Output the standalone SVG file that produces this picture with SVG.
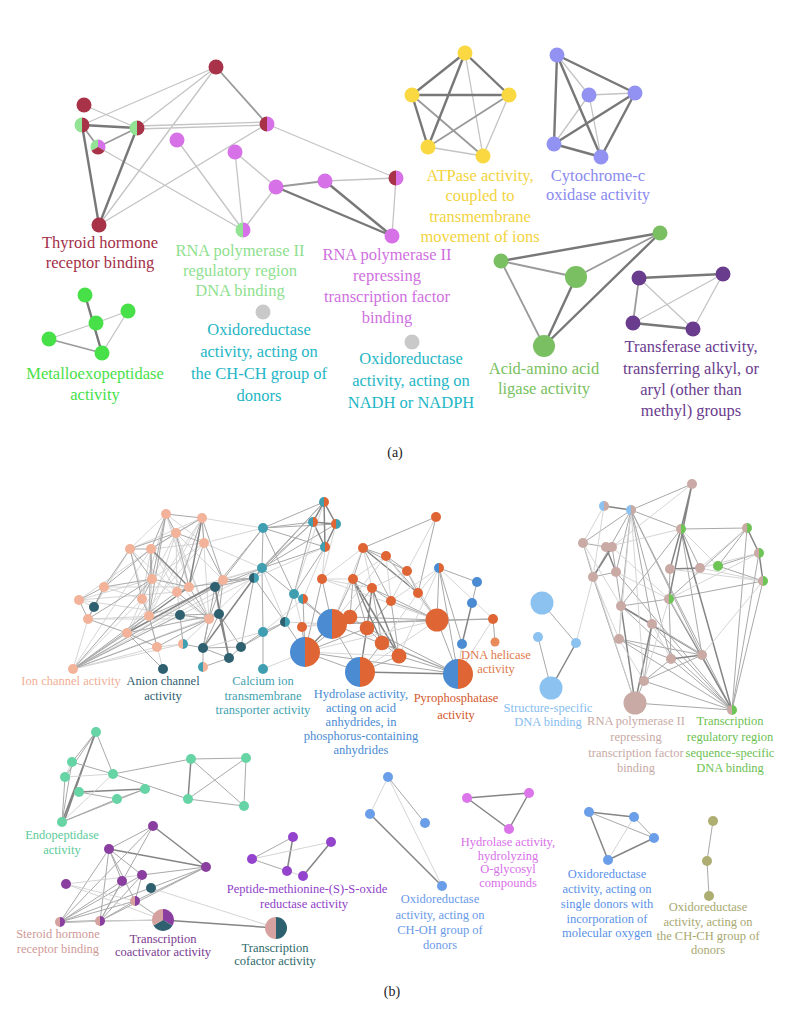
<svg xmlns="http://www.w3.org/2000/svg" xmlns:xlink="http://www.w3.org/1999/xlink" width="790" height="1024" viewBox="0 0 790 1024">
<style>
text{font-family:"Liberation Serif","Times New Roman",serif;text-anchor:middle}
.ta{font-size:16.5px}
.tb{font-size:12.5px}
.ea1{stroke:#c4c4c4;stroke-width:1.3;fill:none}
.ea2{stroke:#9a9a9a;stroke-width:1.8;fill:none}
.ea3{stroke:#787878;stroke-width:2.4;fill:none}
.eb1{stroke:#d0d0d0;stroke-width:.9;fill:none}
.eb2{stroke:#a9a9a9;stroke-width:1;fill:none}
.eb3{stroke:#858585;stroke-width:1.5;fill:none}
.fRed{fill:#a83248}.fLg{fill:#92e494}.fMag{fill:#d771e8}.fGr{fill:#48e048}.fGy{fill:#c9c9c9}
.fYel{fill:#f9d841}.fPer{fill:#9292f2}.fAc{fill:#7ac062}.fPu{fill:#6a3c8e}
.fSal{fill:#f2b39a}.fDt{fill:#2f6070}.fTe{fill:#3f9fb0}.fOr{fill:#df6535}.fBl{fill:#4a8bd2}
.fLb{fill:#8cc2f0}.fRo{fill:#c9aaa5}.fGn{fill:#6ec455}.fMi{fill:#66d4a4}.fCp{fill:#8a3fa0}
.fRs{fill:#d6a2a0}.fPp{fill:#9444cc}.fB2{fill:#6a9ee8}.fM2{fill:#dc74ea}.fOl{fill:#aeae72}.fLo{fill:#e88a5a}
</style>
<defs>
<path id="L" d="M0,-1A1,1 0 0 0 0,1Z"/>
<path id="R" d="M0,-1A1,1 0 0 1 0,1Z"/>
<path id="S1" d="M0,0L0,-1A1,1 0 0 1 .866,.5Z"/>
<path id="S2" d="M0,0L.866,.5A1,1 0 0 1 -.866,.5Z"/>
<path id="S3" d="M0,0L-.866,.5A1,1 0 0 1 0,-1Z"/>
</defs>
<rect width="790" height="1024" fill="#fff"/>

<g id="connectors">
<path class="ea1" d="M216 67L82 125M216 67L137 128M216 67L99 225M84 105L137 128M137 126L267 122M137 129L267 125M98 147L243 230M99 225L267 124M267 124L396 178M177 140L243 230M235 152L243 230M235 152L276 187M276 187L243 230M325 181L396 178M396 178L392 236M96 323L128 311M128 311L102 353M49 339L96 323M465 53L483 156M428 147L483 156M509 95L483 156M557 55L589 95M589 95L635 93M589 95L554 144M589 95L601 157M639 278L693 329M723 274L633 323M723 274L693 329"/>
<path class="ea2" d="M216 67L267 124M82 125L98 147M137 128L98 147M276 187L325 181M49 339L102 353M412 95L483 156M509 95L428 147M660 233L576 277M501 261L576 277M501 261L544 346M639 278L633 323"/>
<path class="ea3" d="M82 125L137 128M82 125L99 225M137 128L99 225M276 187L392 236M325 181L392 236M85 295L102 353M465 53L412 95M465 53L509 95M412 95L509 95M465 53L428 147M412 95L428 147M557 55L635 93M557 55L554 144M557 55L601 157M635 93L554 144M635 93L601 157M554 144L601 157M660 233L501 261M660 233L544 346M576 277L544 346M639 278L723 274M633 323L693 329"/>

<path class="eb1" d="M166 514L130 549M166 514L189 587M166 514L209 619M202 518L151 549M202 518L149 616M202 518L127 633M176 533L152 579M176 533L177 592M176 533L223 580M204 543L151 549M204 543L127 633M130 549L149 616M151 549L142 599M151 549L209 619M152 579L149 616M152 579L209 619M79 600L94 607M142 599L127 633M177 592L180 615M88 619L73 669M157 647L183 644M209 619L183 644M73 669L183 644M73 669L142 599M73 669L157 647M73 669L151 549M73 669L219 614M73 669L223 580M79 600L209 619M104 587L189 587M130 549L177 592M88 619L209 619M79 600L177 592M204 543L152 579M202 518L130 549M104 587L142 599M166 514L204 543M163 669L149 616M94 607L130 549"/>
<path class="eb1" d="M202 518L263 528M204 543L262 568M209 619L262 568M177 592L262 568M73 669L262 568M73 669L254 578M88 619L180 615M151 549L177 592M79 600L151 549M79 600L152 579M166 514L142 599M202 518L209 619M176 533L209 619M176 533L149 616"/>
<path class="eb2" d="M166 514L202 518M166 514L176 533M166 514L151 549M166 514L152 579M166 514L149 616M202 518L176 533M202 518L204 543M202 518L177 592M202 518L223 580M176 533L204 543M176 533L151 549M176 533L189 587M204 543L223 580M204 543L189 587M130 549L151 549M130 549L104 587M130 549L152 579M130 549L142 599M151 549L152 579M151 549L149 616M104 587L79 600M104 587L88 619M104 587L152 579M152 579L142 599M152 579L189 587M223 580L209 619M223 580L215 587M177 592L189 587M177 592L209 619M189 587L209 619M88 619L127 633M149 616L127 633M209 619L157 647M127 633L157 647M127 633L73 669M73 669L149 616M73 669L209 619M73 669L152 579M73 669L180 615M73 669L177 592M127 633L163 669M149 616L157 647M142 599L149 616M79 600L88 619M189 587L254 578M73 669L215 587M127 633L219 614M149 616L215 587M130 549L176 533M104 587L151 549M88 619L152 579"/>
<path class="eb3" d="M127 633L223 580M202 518L189 587M149 616L189 587M151 549L189 587"/>
<path class="eb2" d="M215 587L219 614M215 587L203 648M215 587L254 578M180 615L219 614M219 614L203 648M219 614L241 647M203 648L229 658M203 648L241 647M229 658L241 647M203 648L203 667M229 658L203 667M254 578L241 647M254 578L262 568M254 578L223 580M241 647L263 632M219 614L209 619M180 615L209 619M180 615L183 644M94 607L88 619M94 607L104 587M183 644L203 648M223 580L219 614M209 619L203 648"/>
<path class="eb3" d="M215 587L229 658M219 614L229 658M254 578L203 648"/>
<path class="eb2" d="M263 528L324 502M263 528L313 522M263 528L336 524M263 528L325 547M263 528L262 568M263 528L294 594M262 568L263 632M262 568L294 594M262 568L325 547M263 632L263 669M263 632L285 622M285 622L294 594M294 594L325 547M294 594L313 522M285 622L241 647M262 568L324 502M262 568L313 522M262 568L336 524M254 578L313 522M254 578L324 502M254 578L285 622M294 594L332 624M285 622L305 652M303 599L332 624M303 599L305 652M262 568L215 587M223 580L263 528M215 587L263 528"/>
<path class="eb3" d="M324 502L313 522M324 502L336 524M324 502L325 547M313 522L336 524M313 522L325 547M336 524L325 547"/>
<path class="eb1" d="M262 568L223 580M254 578L325 547M263 632L303 599M263 669L305 652M285 622L332 624M263 632L203 648M262 568L285 622M325 547L322 579M336 524L322 579M294 594L302 627M325 547L303 599M324 502L294 594M204 543L263 528"/>
<path class="eb2" d="M436 517L363 548M436 517L418 593M363 548L386 556M363 548L407 571M363 548L353 579M363 548L391 601M386 556L407 571M386 556L418 593M407 571L418 593M353 579L372 588M353 579L332 624M353 579L350 617M353 579L367 628M372 588L391 601M372 588L350 617M372 588L382 643M391 601L437 620M391 601L367 628M391 601L399 656M418 593L437 620M350 617L367 628M367 628L382 643M382 643L399 656M350 617L332 624M332 624L360 672M332 624L458 674M305 652L360 672M305 652L458 674M399 656L458 674M382 643L458 674M367 628L458 674M437 620L458 674M437 620L493 619M493 619L495 642M332 624L437 620M302 627L305 652M439 568L477 582M439 568L462 644M439 568L437 620M477 582L472 603M322 579L332 624M322 579L305 652M350 617L305 652M367 628L305 652M382 643L360 672M360 672L399 656M439 568L458 674M353 579L437 620M332 624L493 619M437 620L350 617"/>
<path class="eb3" d="M360 672L458 674M472 603L462 644M363 548L418 593M353 579L382 643M372 588L399 656M353 579L399 656M367 628L360 672M332 624L305 652M372 588L367 628"/>
<path class="eb1" d="M363 548L322 579M363 548L372 588M386 556L353 579M386 556L391 601M407 571L391 601M322 579L353 579M322 579L372 588M386 556L437 620M407 571L437 620M436 517L407 571M418 593L439 568M391 601L439 568M439 568L399 656M462 644L458 674M322 579L437 620M363 548L332 624M302 627L332 624M302 627L350 617M305 652L437 620M418 593L382 643M407 571L372 588M458 674L493 619M493 619L439 568M386 556L332 624M305 652L399 656M360 672L437 620"/>
<path class="eb2" d="M542 603L576 643M538 637L551 688"/>
<path class="eb3" d="M576 643L551 688M604 506L631 510"/>
<path class="eb1" d="M576 643L593 577"/>
<path class="eb2" d="M692 484L631 510M631 510L583 543M631 510L593 577M631 510L616 572M631 510L681 529M631 510L621 606M631 510L671 659M631 510L702 655M631 510L732 710M631 510L652 624M583 543L606 547M583 543L593 577M612 547L616 572M593 577L616 572M681 529L747 528M681 529L700 568M747 528L732 710M747 528L718 566M747 528L669 599M759 553L732 710M763 581L732 710M763 581L669 599M718 566L759 553M718 566L763 581M670 569L669 599M669 599L671 659M669 599L621 606M621 606L652 624M652 624L644 681M619 639L671 659M619 639L702 655M671 659L644 681M702 655L644 681M644 681L635 703M621 606L732 710M619 639L732 710M671 659L732 710M702 655L732 710M644 681L732 710M652 624L732 710M616 572L732 710M593 577L635 703M616 572L621 606M681 529L621 606M681 529L702 655M635 703L732 710"/>
<path class="eb3" d="M606 547L616 572M612 547L593 577M681 529L670 569M681 529L732 710M747 528L759 553M759 553L763 581M670 569L700 568M669 599L732 710M621 606L702 655M652 624L635 703M671 659L702 655M621 606L635 703M692 484L681 529M692 484L669 599"/>
<path class="eb1" d="M604 506L593 577M604 506L583 543M692 484L612 547M606 547L681 529M612 547L669 599M616 572L669 599M700 568L747 528M700 568L763 581M670 569L763 581M583 543L635 703M593 577L619 639M621 606L619 639M619 639L644 681M652 624L671 659M652 624L702 655M669 599L702 655M669 599L644 681M763 581L702 655M583 543L621 606M631 510L619 639M631 510L644 681M681 529L718 566M700 568L759 553M759 553L669 599"/>
<path class="eb3" d="M96 732L62 822M95 733L64 822M79 792L145 789M191 759L188 799"/>
<path class="eb2" d="M96 732L65 777M96 732L113 774M72 762L113 774M72 762L62 822M65 777L62 822M79 792L117 799M117 799L145 789M62 822L145 789M62 822L117 799M113 774L191 759M191 759L246 758M191 759L244 806M246 758L188 799M246 758L244 806M188 799L244 806M113 774L188 799M96 732L72 762"/>
<path class="eb1" d="M65 777L113 774M72 762L65 777M62 822L113 774"/>
<path class="eb3" d="M153 826L206 867M109 849L206 867M60 922L100 921M163 920L276 928"/>
<path class="eb2" d="M153 826L109 849M153 826L60 922M153 826L100 921M109 849L60 922M109 849L100 921M109 849L122 881M109 849L135 901M109 849L142 875M206 867L60 922M206 867L100 921M206 867L135 901M206 867L142 875M122 881L60 922M122 881L100 921M142 875L60 922M142 875L100 921M142 875L135 901M135 901L60 922M135 901L100 921M135 901L163 920M100 921L163 920"/>
<path class="eb1" d="M66 884L142 875M66 884L135 901M151 888L276 928M66 884L163 920M60 922L163 920"/>
<path class="eb3" d="M293 837L287 871M303 876L331 842M370 814L442 886M467 798L529 793M467 798L509 829M529 793L509 829M589 812L634 817M589 812L608 860M654 838L608 860"/>
<path class="eb2" d="M252 859L287 871M293 837L252 859M388 777L425 823M589 812L654 838M634 817L654 838M713 821L707 861M707 861L709 896"/>
<path class="eb1" d="M252 859L331 842M287 871L303 876M388 777L370 814M388 777L442 886M634 817L608 860"/>
</g>

<g id="thyroid-hormone-receptor-binding">
<circle cx="216" cy="67" r="7.5" class="fRed"/>
<circle cx="84" cy="105" r="7.5" class="fRed"/>
<g transform="translate(82 125) scale(7.5)"><use href="#L" class="fLg"/><use href="#R" class="fRed"/></g>
<g transform="translate(137 128) scale(7.5)"><use href="#L" class="fLg"/><use href="#R" class="fRed"/></g>
<g transform="translate(98 147) scale(7.5)"><use href="#S3" class="fLg"/><use href="#S1" class="fMag"/><use href="#S2" class="fRed"/></g>
<circle cx="99" cy="225" r="7.5" class="fRed"/>
<g transform="translate(267 124) scale(7.5)"><use href="#L" class="fRed"/><use href="#R" class="fMag"/></g>
<text class="ta" x="100" y="248" fill="#a33048">Thyroid hormone</text>
<text class="ta" x="100" y="268" fill="#a33048">receptor binding</text>
</g>
<g id="rna-pol2-repressing-a">
<circle cx="177" cy="140" r="7.5" class="fMag"/>
<circle cx="235" cy="152" r="7.5" class="fMag"/>
<circle cx="276" cy="187" r="7.5" class="fMag"/>
<circle cx="325" cy="181" r="7.5" class="fMag"/>
<g transform="translate(396 178) scale(7.5)"><use href="#L" class="fRed"/><use href="#R" class="fMag"/></g>
<circle cx="392" cy="236" r="7.5" class="fMag"/>
<text class="ta" x="387" y="260" fill="#d070e0">RNA polymerase II</text>
<text class="ta" x="387" y="281" fill="#d070e0">repressing</text>
<text class="ta" x="387" y="302" fill="#d070e0">transcription factor</text>
<text class="ta" x="387" y="323" fill="#d070e0">binding</text>
</g>
<g id="rna-pol2-regulatory-a">
<g transform="translate(243 230) scale(7.5)"><use href="#L" class="fLg"/><use href="#R" class="fMag"/></g>
<text class="ta" x="240" y="256" fill="#8fdf8f">RNA polymerase II</text>
<text class="ta" x="240" y="276" fill="#8fdf8f">regulatory region</text>
<text class="ta" x="240" y="296" fill="#8fdf8f">DNA binding</text>
</g>
<g id="oxidoreductase-chch-a">
<circle cx="263" cy="312" r="7.5" class="fGy"/>
<text class="ta" x="259" y="335" fill="#1eb6c6">Oxidoreductase</text>
<text class="ta" x="259" y="357" fill="#1eb6c6">activity, acting on</text>
<text class="ta" x="259" y="379" fill="#1eb6c6">the CH-CH group of</text>
<text class="ta" x="259" y="401" fill="#1eb6c6">donors</text>
</g>
<g id="oxidoreductase-nadh">
<circle cx="412" cy="342" r="7.5" class="fGy"/>
<text class="ta" x="411" y="364" fill="#1eb6c6">Oxidoreductase</text>
<text class="ta" x="411" y="386" fill="#1eb6c6">activity, acting on</text>
<text class="ta" x="411" y="408" fill="#1eb6c6">NADH or NADPH</text>
</g>
<g id="metalloexopeptidase">
<circle cx="85" cy="295" r="7.5" class="fGr"/>
<circle cx="128" cy="311" r="7.5" class="fGr"/>
<circle cx="96" cy="323" r="7.5" class="fGr"/>
<circle cx="49" cy="339" r="7.5" class="fGr"/>
<circle cx="102" cy="353" r="7.5" class="fGr"/>
<text class="ta" x="95" y="379" fill="#48e048">Metalloexopeptidase</text>
<text class="ta" x="95" y="400" fill="#48e048">activity</text>
</g>
<g id="atpase">
<circle cx="465" cy="53" r="7.5" class="fYel"/>
<circle cx="412" cy="95" r="7.5" class="fYel"/>
<circle cx="509" cy="95" r="7.5" class="fYel"/>
<circle cx="428" cy="147" r="7.5" class="fYel"/>
<circle cx="483" cy="156" r="7.5" class="fYel"/>
<text class="ta" x="480" y="181" fill="#f3d340">ATPase activity,</text>
<text class="ta" x="480" y="201" fill="#f3d340">coupled to</text>
<text class="ta" x="480" y="222" fill="#f3d340">transmembrane</text>
<text class="ta" x="480" y="242" fill="#f3d340">movement of ions</text>
</g>
<g id="cytochrome-c">
<circle cx="557" cy="55" r="7.5" class="fPer"/>
<circle cx="589" cy="95" r="7.5" class="fPer"/>
<circle cx="635" cy="93" r="7.5" class="fPer"/>
<circle cx="554" cy="144" r="7.5" class="fPer"/>
<circle cx="601" cy="157" r="7.5" class="fPer"/>
<text class="ta" x="598" y="181" fill="#8a8aee">Cytochrome-c</text>
<text class="ta" x="598" y="200" fill="#8a8aee">oxidase activity</text>
</g>
<g id="acid-amino-acid-ligase">
<circle cx="660" cy="233" r="7.5" class="fAc"/>
<circle cx="501" cy="261" r="7.5" class="fAc"/>
<circle cx="576" cy="277" r="11" class="fAc"/>
<circle cx="544" cy="346" r="11" class="fAc"/>
<text class="ta" x="544" y="374" fill="#78bf60">Acid-amino acid</text>
<text class="ta" x="544" y="394" fill="#78bf60">ligase activity</text>
</g>
<g id="transferase">
<circle cx="639" cy="278" r="7.5" class="fPu"/>
<circle cx="723" cy="274" r="7.5" class="fPu"/>
<circle cx="633" cy="323" r="7.5" class="fPu"/>
<circle cx="693" cy="329" r="7.5" class="fPu"/>
<text class="ta" x="691" y="352" fill="#6a3c8e">Transferase activity,</text>
<text class="ta" x="691" y="374" fill="#6a3c8e">transferring alkyl, or</text>
<text class="ta" x="691" y="395" fill="#6a3c8e">aryl (other than</text>
<text class="ta" x="691" y="416" fill="#6a3c8e">methyl) groups</text>
</g>
<text x="395" y="457" style="font-size:14px" fill="#222">(a)</text>

<g id="ion-channel">
<circle cx="166" cy="514" r="5" class="fSal"/><circle cx="202" cy="518" r="5" class="fSal"/><circle cx="176" cy="533" r="5" class="fSal"/><circle cx="204" cy="543" r="5" class="fSal"/><circle cx="130" cy="549" r="5" class="fSal"/><circle cx="151" cy="549" r="5" class="fSal"/><circle cx="104" cy="587" r="5" class="fSal"/><circle cx="152" cy="579" r="5" class="fSal"/><circle cx="223" cy="580" r="5" class="fSal"/><circle cx="79" cy="600" r="5" class="fSal"/><circle cx="142" cy="599" r="5" class="fSal"/><circle cx="177" cy="592" r="5" class="fSal"/><circle cx="189" cy="587" r="5" class="fSal"/><circle cx="88" cy="619" r="5" class="fSal"/><circle cx="149" cy="616" r="5" class="fSal"/><circle cx="209" cy="619" r="5" class="fSal"/><circle cx="127" cy="633" r="5" class="fSal"/><circle cx="157" cy="647" r="5" class="fSal"/><circle cx="73" cy="669" r="5" class="fSal"/>
<g transform="translate(183 644) scale(5)"><use href="#L" class="fSal"/><use href="#R" class="fTe"/></g>
<g transform="translate(203 667) scale(5)"><use href="#L" class="fTe"/><use href="#R" class="fSal"/></g>
<text class="tb" x="71" y="685" fill="#f0ae94">Ion channel activity</text>
</g>
<g id="anion-channel">
<circle cx="94" cy="607" r="5" class="fDt"/><circle cx="215" cy="587" r="5" class="fDt"/><circle cx="180" cy="615" r="5" class="fDt"/><circle cx="219" cy="614" r="5" class="fDt"/><circle cx="203" cy="648" r="5" class="fDt"/><circle cx="229" cy="658" r="5" class="fDt"/><circle cx="241" cy="647" r="5" class="fDt"/><circle cx="163" cy="669" r="5" class="fDt"/>
<g transform="translate(254 578) scale(5)"><use href="#L" class="fDt"/><use href="#R" class="fTe"/></g>
<text class="tb" x="163" y="685" fill="#2f6070">Anion channel</text>
<text class="tb" x="163" y="700" fill="#2f6070">activity</text>
</g>
<g id="calcium-ion">
<circle cx="263" cy="528" r="5" class="fTe"/><circle cx="262" cy="568" r="5" class="fTe"/><circle cx="263" cy="632" r="5" class="fTe"/><circle cx="263" cy="669" r="5" class="fTe"/><circle cx="294" cy="594" r="5" class="fTe"/>
<g transform="translate(285 622) scale(5)"><use href="#L" class="fDt"/><use href="#R" class="fTe"/></g>
<g transform="translate(324 502) scale(5)"><use href="#L" class="fTe"/><use href="#R" class="fOr"/></g>
<g transform="translate(313 522) scale(5)"><use href="#L" class="fTe"/><use href="#R" class="fOr"/></g>
<g transform="translate(336 524) scale(5)"><use href="#L" class="fOr"/><use href="#R" class="fTe"/></g>
<g transform="translate(325 547) scale(5)"><use href="#L" class="fTe"/><use href="#R" class="fOr"/></g>
<g transform="translate(303 599) scale(5)"><use href="#L" class="fTe"/><use href="#R" class="fOr"/></g>
<text class="tb" x="263" y="685" fill="#3f9fb0">Calcium ion</text>
<text class="tb" x="263" y="700" fill="#3f9fb0">transmembrane</text>
<text class="tb" x="263" y="714" fill="#3f9fb0">transporter activity</text>
</g>
<g id="pyrophosphatase">
<circle cx="436" cy="517" r="5" class="fOr"/><circle cx="363" cy="548" r="5" class="fOr"/><circle cx="386" cy="556" r="5" class="fOr"/><circle cx="407" cy="571" r="5" class="fOr"/><circle cx="322" cy="579" r="5" class="fOr"/><circle cx="353" cy="579" r="5" class="fOr"/><circle cx="372" cy="588" r="5" class="fOr"/><circle cx="391" cy="601" r="5" class="fOr"/><circle cx="418" cy="593" r="5" class="fOr"/><circle cx="302" cy="627" r="5" class="fOr"/>
<circle cx="350" cy="617" r="7.3" class="fOr"/><circle cx="367" cy="628" r="7.3" class="fOr"/><circle cx="382" cy="643" r="7.3" class="fOr"/><circle cx="399" cy="656" r="7.5" class="fOr"/><circle cx="437" cy="620" r="11.5" class="fOr"/>
<text class="tb" x="456" y="702" fill="#d4582c">Pyrophosphatase</text>
<text class="tb" x="456" y="719" fill="#d4582c">activity</text>
</g>
<g id="dna-helicase">
<circle cx="493" cy="619" r="5" class="fOr"/><circle cx="495" cy="642" r="4.5" class="fLo"/>
<text class="tb" x="496" y="659" fill="#e07a4c">DNA helicase</text>
<text class="tb" x="496" y="673" fill="#e07a4c">activity</text>
</g>
<g id="hydrolase-acid-anhydrides">
<g transform="translate(332 624) scale(15)"><use href="#L" class="fBl"/><use href="#R" class="fOr"/></g>
<g transform="translate(305 652) scale(15)"><use href="#L" class="fBl"/><use href="#R" class="fOr"/></g>
<g transform="translate(360 672) scale(15)"><use href="#L" class="fBl"/><use href="#R" class="fOr"/></g>
<g transform="translate(458 674) scale(15)"><use href="#L" class="fBl"/><use href="#R" class="fOr"/></g>
<g transform="translate(439 568) scale(5)"><use href="#L" class="fBl"/><use href="#R" class="fOr"/></g>
<circle cx="477" cy="582" r="5" class="fBl"/><circle cx="472" cy="603" r="5" class="fBl"/><circle cx="462" cy="644" r="5" class="fBl"/>
<text class="tb" x="361" y="698" fill="#4a8bd2">Hydrolase activity,</text>
<text class="tb" x="361" y="712" fill="#4a8bd2">acting on acid</text>
<text class="tb" x="361" y="726" fill="#4a8bd2">anhydrides, in</text>
<text class="tb" x="361" y="740" fill="#4a8bd2">phosphorus-containing</text>
<text class="tb" x="361" y="754" fill="#4a8bd2">anhydrides</text>
</g>
<g id="structure-specific-dna-binding">
<g transform="translate(604 506) scale(5)"><use href="#L" class="fLb"/><use href="#R" class="fRo"/></g>
<g transform="translate(631 510) scale(5)"><use href="#L" class="fLb"/><use href="#R" class="fRo"/></g>
<circle cx="542" cy="603" r="11.5" class="fLb"/><circle cx="538" cy="637" r="5" class="fLb"/><circle cx="576" cy="643" r="5" class="fLb"/><circle cx="551" cy="688" r="11.5" class="fLb"/>
<text class="tb" x="548" y="712" fill="#86bdee">Structure-specific</text>
<text class="tb" x="548" y="726" fill="#86bdee">DNA binding</text>
</g>
<g id="rna-pol2-repressing-b">
<circle cx="692" cy="484" r="5" class="fRo"/><circle cx="583" cy="543" r="5" class="fRo"/><circle cx="606" cy="547" r="5" class="fRo"/><circle cx="612" cy="547" r="5" class="fRo"/><circle cx="593" cy="577" r="5" class="fRo"/><circle cx="616" cy="572" r="5" class="fRo"/><circle cx="670" cy="569" r="5" class="fRo"/><circle cx="700" cy="568" r="5" class="fRo"/><circle cx="621" cy="606" r="5" class="fRo"/><circle cx="652" cy="624" r="5" class="fRo"/><circle cx="619" cy="639" r="5" class="fRo"/><circle cx="671" cy="659" r="5" class="fRo"/><circle cx="702" cy="655" r="5" class="fRo"/><circle cx="644" cy="681" r="5" class="fRo"/><circle cx="635" cy="703" r="11.5" class="fRo"/>
<text class="tb" x="636" y="725" fill="#c8aaa6">RNA polymerase II</text>
<text class="tb" x="636" y="741" fill="#c8aaa6">repressing</text>
<text class="tb" x="636" y="757" fill="#c8aaa6">transcription factor</text>
<text class="tb" x="636" y="772" fill="#c8aaa6">binding</text>
</g>
<g id="transcription-regulatory-region">
<g transform="translate(681 529) scale(5)"><use href="#L" class="fRo"/><use href="#R" class="fGn"/></g>
<g transform="translate(747 528) scale(5)"><use href="#L" class="fRo"/><use href="#R" class="fGn"/></g>
<g transform="translate(759 553) scale(5)"><use href="#L" class="fRo"/><use href="#R" class="fGn"/></g>
<g transform="translate(763 581) scale(5)"><use href="#L" class="fRo"/><use href="#R" class="fGn"/></g>
<g transform="translate(669 599) scale(5)"><use href="#L" class="fRo"/><use href="#R" class="fGn"/></g>
<g transform="translate(732 710) scale(5)"><use href="#L" class="fRo"/><use href="#R" class="fGn"/></g>
<circle cx="718" cy="566" r="5" class="fGn"/>
<text class="tb" x="730" y="725" fill="#6cbf52">Transcription</text>
<text class="tb" x="730" y="741" fill="#6cbf52">regulatory region</text>
<text class="tb" x="730" y="757" fill="#6cbf52">sequence-specific</text>
<text class="tb" x="730" y="772" fill="#6cbf52">DNA binding</text>
</g>
<g id="endopeptidase">
<circle cx="96" cy="732" r="5" class="fMi"/><circle cx="72" cy="762" r="5" class="fMi"/><circle cx="65" cy="777" r="5" class="fMi"/><circle cx="113" cy="774" r="5" class="fMi"/><circle cx="79" cy="792" r="5" class="fMi"/><circle cx="117" cy="799" r="5" class="fMi"/><circle cx="145" cy="789" r="5" class="fMi"/><circle cx="62" cy="822" r="5" class="fMi"/><circle cx="191" cy="759" r="5" class="fMi"/><circle cx="246" cy="758" r="5" class="fMi"/><circle cx="188" cy="799" r="5" class="fMi"/><circle cx="244" cy="806" r="5" class="fMi"/>
<text class="tb" x="62" y="839" fill="#5ccb9a">Endopeptidase</text>
<text class="tb" x="62" y="854" fill="#5ccb9a">activity</text>
</g>
<g id="transcription-coactivator">
<circle cx="153" cy="826" r="5" class="fCp"/><circle cx="109" cy="849" r="5" class="fCp"/><circle cx="206" cy="867" r="5" class="fCp"/><circle cx="66" cy="884" r="5" class="fCp"/><circle cx="122" cy="881" r="5" class="fCp"/><circle cx="142" cy="875" r="5" class="fCp"/>
<g transform="translate(163 920) scale(11)"><use href="#S1" class="fCp"/><use href="#S2" class="fDt"/><use href="#S3" class="fRs"/></g>
<text class="tb" x="163" y="943" fill="#7a3a90">Transcription</text>
<text class="tb" x="163" y="956" fill="#7a3a90">coactivator activity</text>
</g>
<g id="steroid-hormone-receptor-binding">
<g transform="translate(135 901) scale(5)"><use href="#L" class="fRs"/><use href="#R" class="fCp"/></g>
<g transform="translate(60 922) scale(5)"><use href="#L" class="fRs"/><use href="#R" class="fCp"/></g>
<g transform="translate(100 921) scale(5)"><use href="#L" class="fRs"/><use href="#R" class="fCp"/></g>
<text class="tb" x="58" y="938" fill="#d09a98">Steroid hormone</text>
<text class="tb" x="58" y="953" fill="#d09a98">receptor binding</text>
</g>
<g id="transcription-cofactor">
<circle cx="151" cy="888" r="5" class="fDt"/>
<g transform="translate(276 928) scale(11)"><use href="#L" class="fRs"/><use href="#R" class="fDt"/></g>
<text class="tb" x="275" y="952" fill="#2e6a6a">Transcription</text>
<text class="tb" x="275" y="965" fill="#2e6a6a">cofactor activity</text>
</g>
<g id="peptide-methionine">
<circle cx="293" cy="837" r="5" class="fPp"/><circle cx="331" cy="842" r="5" class="fPp"/><circle cx="252" cy="859" r="5" class="fPp"/><circle cx="287" cy="871" r="5" class="fPp"/><circle cx="303" cy="876" r="5" class="fPp"/>
<text class="tb" x="307" y="893" fill="#9040c8">Peptide-methionine-(S)-S-oxide</text>
<text class="tb" x="304" y="908" fill="#9040c8">reductase activity</text>
</g>
<g id="oxidoreductase-choh">
<circle cx="388" cy="777" r="5" class="fB2"/><circle cx="370" cy="814" r="5" class="fB2"/><circle cx="425" cy="823" r="5" class="fB2"/><circle cx="442" cy="886" r="5" class="fB2"/>
<text class="tb" x="440" y="903" fill="#6a9ae8">Oxidoreductase</text>
<text class="tb" x="440" y="919" fill="#6a9ae8">activity, acting on</text>
<text class="tb" x="440" y="934" fill="#6a9ae8">CH-OH group of</text>
<text class="tb" x="440" y="949" fill="#6a9ae8">donors</text>
</g>
<g id="hydrolase-o-glycosyl">
<circle cx="467" cy="798" r="5" class="fM2"/><circle cx="529" cy="793" r="5" class="fM2"/><circle cx="509" cy="829" r="5" class="fM2"/>
<text class="tb" x="508" y="846" fill="#d870e8">Hydrolase activity,</text>
<text class="tb" x="508" y="860" fill="#d870e8">hydrolyzing</text>
<text class="tb" x="508" y="873" fill="#d870e8">O-glycosyl</text>
<text class="tb" x="508" y="887" fill="#d870e8">compounds</text>
</g>
<g id="oxidoreductase-single-donors">
<circle cx="589" cy="812" r="5" class="fB2"/><circle cx="634" cy="817" r="5" class="fB2"/><circle cx="654" cy="838" r="5" class="fB2"/><circle cx="608" cy="860" r="5" class="fB2"/>
<text class="tb" x="607" y="878" fill="#5a92e8">Oxidoreductase</text>
<text class="tb" x="607" y="893" fill="#5a92e8">activity, acting on</text>
<text class="tb" x="607" y="908" fill="#5a92e8">single donors with</text>
<text class="tb" x="607" y="923" fill="#5a92e8">incorporation of</text>
<text class="tb" x="607" y="937" fill="#5a92e8">molecular oxygen</text>
</g>
<g id="oxidoreductase-chch-b">
<circle cx="713" cy="821" r="5" class="fOl"/><circle cx="707" cy="861" r="5" class="fOl"/><circle cx="709" cy="896" r="5" class="fOl"/>
<text class="tb" x="708" y="911" fill="#a8a870">Oxidoreductase</text>
<text class="tb" x="708" y="926" fill="#a8a870">activity, acting on</text>
<text class="tb" x="708" y="940" fill="#a8a870">the CH-CH group of</text>
<text class="tb" x="708" y="954" fill="#a8a870">donors</text>
</g>
<text x="392" y="996" style="font-size:14px" fill="#222">(b)</text>
</svg>
